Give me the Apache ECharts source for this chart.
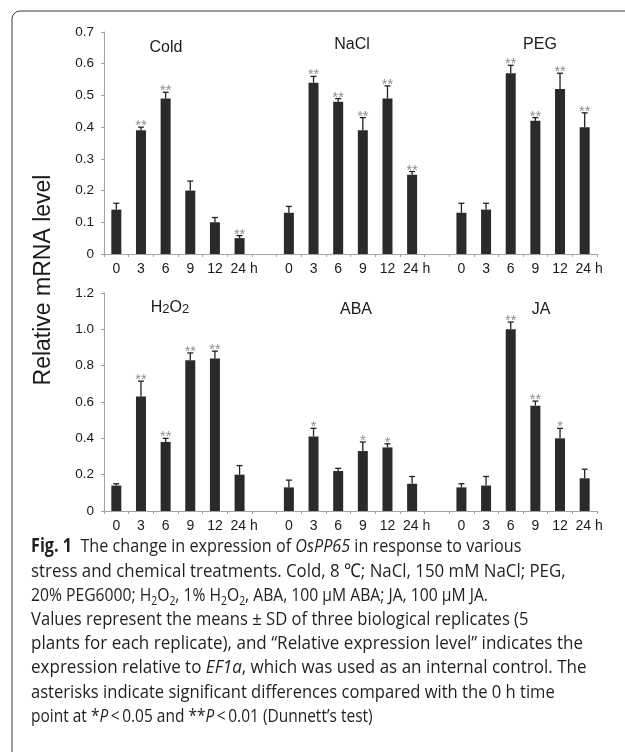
<!DOCTYPE html>
<html>
<head>
<meta charset="utf-8">
<script src="https://cdn.jsdelivr.net/npm/echarts@6/dist/echarts.min.js"></script>
<style>
html,body{margin:0;padding:0;background:#fff;}
#chart{width:625px;height:752px;}
</style>
</head>
<body>
<div id="chart"></div>
<script>
// ---------- data ----------
const times = ['0', '3', '6', '9', '12', '24'];
const topGroups = ['Cold', 'NaCl', 'PEG'];
const bottomGroups = ['H2O2', 'ABA', 'JA'];
const topYTicks = ['0', '0.1', '0.2', '0.3', '0.4', '0.5', '0.6', '0.7'];
const bottomYTicks = ['0', '0.2', '0.4', '0.6', '0.8', '1.0', '1.2'];

const coldMean = [0.14, 0.39, 0.49, 0.20, 0.10, 0.05];
const coldSD   = [0.02, 0.01, 0.02, 0.03, 0.015, 0.008];
const coldSig  = ['', '**', '**', '', '', '**'];

const naclMean = [0.13, 0.54, 0.48, 0.39, 0.49, 0.25];
const naclSD   = [0.02, 0.02, 0.01, 0.04, 0.04, 0.01];
const naclSig  = ['', '**', '**', '**', '**', '**'];

const pegMean = [0.13, 0.14, 0.57, 0.42, 0.52, 0.40];
const pegSD   = [0.03, 0.02, 0.025, 0.01, 0.05, 0.045];
const pegSig  = ['', '', '**', '**', '**', '**'];

const h2o2Mean = [0.14, 0.63, 0.38, 0.83, 0.84, 0.20];
const h2o2SD   = [0.01, 0.085, 0.02, 0.04, 0.04, 0.05];
const h2o2Sig  = ['', '**', '**', '**', '**', ''];

const abaMean = [0.13, 0.41, 0.22, 0.33, 0.35, 0.15];
const abaSD   = [0.04, 0.045, 0.015, 0.05, 0.02, 0.04];
const abaSig  = ['', '*', '', '*', '*', ''];

const jaMean = [0.13, 0.14, 1.00, 0.58, 0.40, 0.18];
const jaSD   = [0.02, 0.05, 0.04, 0.025, 0.055, 0.05];
const jaSig  = ['', '', '**', '**', '*', ''];

// ---------- build ----------
function buildPanel(groups, means, sds, sigs) {
  const cats = [], vals = [], errs = [], sigList = [];
  groups.forEach((g, gi) => {
    times.forEach((t, ti) => {
      const idx = cats.length;
      cats.push(g + '|' + t);
      vals.push(means[gi][ti]);
      errs.push([idx, means[gi][ti], sds[gi][ti]]);
      sigList.push(sigs[gi][ti]);
    });
    if (gi < groups.length - 1) { cats.push(g + '|gap'); vals.push(null); }
  });
  return { cats, vals, errs, sigList };
}
const topPanel = buildPanel(topGroups, [coldMean, naclMean, pegMean], [coldSD, naclSD, pegSD], [coldSig, naclSig, pegSig]);
const botPanel = buildPanel(bottomGroups, [h2o2Mean, abaMean, jaMean], [h2o2SD, abaSD, jaSD], [h2o2Sig, abaSig, jaSig]);

const FONT = '"Liberation Sans", Arial, sans-serif';
const CAP_FONT = '"Open Sans", "Noto Sans", sans-serif';
const AXIS_COLOR = '#a3a3a3';
const BAR_COLOR = '#2a2a2a';

function xAxisFor(panel, gridIndex) {
  return {
    type: 'category', gridIndex, data: panel.cats,
    axisLine: { lineStyle: { color: AXIS_COLOR, width: 1 } },
    axisTick: { show: true, length: 3, lineStyle: { color: AXIS_COLOR } },
    axisLabel: {
      interval: 0, margin: 8, color: '#1a1a1a', fontSize: 14, fontFamily: FONT,
      formatter: v => {
        const t = v.split('|')[1];
        if (t === 'gap') return '';
        if (t === '24') return '{p|24 h}';
        return t;
      },
      rich: { p: { fontSize: 14, fontFamily: FONT, color: '#1a1a1a', padding: [0, 0, 0, 9] } }
    }
  };
}
function yAxisFor(gridIndex, max, interval, ticks) {
  return {
    type: 'value', gridIndex, min: 0, max, interval,
    axisLine: { show: true, lineStyle: { color: AXIS_COLOR, width: 1 } },
    axisTick: { show: true, length: 3, lineStyle: { color: AXIS_COLOR } },
    splitLine: { show: false },
    axisLabel: {
      margin: 10, color: '#1a1a1a', fontSize: 13.5, fontFamily: FONT,
      formatter: (v) => ticks[Math.round(v / interval)]
    }
  };
}
function errSeries(panel, idx) {
  return {
    type: 'custom', xAxisIndex: idx, yAxisIndex: idx, data: panel.errs, z: 5,
    encode: { x: 0, y: 1 },
    renderItem: (params, api) => {
      const x = api.value(0), m = api.value(1), s = api.value(2);
      const p0 = api.coord([x, m]), p1 = api.coord([x, m + s]);
      const cap = 3;
      const children = [
        { type: 'line', shape: { x1: p0[0], y1: p0[1], x2: p1[0], y2: p1[1] }, style: { stroke: '#222', lineWidth: 1.3 } },
        { type: 'line', shape: { x1: p1[0] - cap, y1: p1[1], x2: p1[0] + cap, y2: p1[1] }, style: { stroke: '#222', lineWidth: 1.3 } }
      ];
      const sig = panel.sigList[params.dataIndex];
      if (sig) {
        children.push({ type: 'text', x: p1[0], y: p1[1] - 1,
          style: { text: sig, fill: '#8c8c8c', fontSize: 14.5, fontFamily: FONT, align: 'center', verticalAlign: 'middle' } });
      }
      return { type: 'group', children };
    }
  };
}

function titleText(text, cx, cy) {
  return { type: 'text', x: cx, y: cy, style: { text, fill: '#1a1a1a', fontSize: 16, fontFamily: FONT, align: 'center', verticalAlign: 'middle' } };
}

// ---------- caption ----------
const CAP_SIZE = 19;
const CAP_COLOR = '#231f20';
const capRich = {
  b: { fontSize: CAP_SIZE, fontFamily: CAP_FONT, fontWeight: 'bold', fill: CAP_COLOR },
  i: { fontSize: CAP_SIZE, fontFamily: CAP_FONT, fontStyle: 'italic', fill: CAP_COLOR },
  s: { fontSize: 12.5, fontFamily: CAP_FONT, fill: CAP_COLOR, verticalAlign: 'bottom', lineHeight: 12 },
  n: { fontSize: CAP_SIZE, fontFamily: CAP_FONT, fill: CAP_COLOR, lineHeight: 25 }
};
const captionLines = [
  '{b|Fig. 1}{n|  The change in expression of }{i|OsPP65}{n| in response to various}',
  '{n|stress and chemical treatments. Cold, 8 ℃; NaCl, 150 mM NaCl; PEG,}',
  '{n|20% PEG6000; H}{s|2}{n|O}{s|2}{n|, 1% H}{s|2}{n|O}{s|2}{n|, ABA, 100 μM ABA; JA, 100 μM JA.}',
  '{n|Values represent the means ± SD of three biological replicates (5}',
  '{n|plants for each replicate), and “Relative expression level” indicates the}',
  '{n|expression relative to }{i|EF1a}{n|, which was used as an internal control. The}',
  '{n|asterisks indicate significant differences compared with the 0 h time}',
  '{n|point at *}{i|P}{n|\u2009<\u20090.05 and **}{i|P}{n|\u2009<\u20090.01 (Dunnett’s test)}'
];
// approximate right edge of each caption line in the reference (layout only)
const captionRight = [511, 576, 465, 531, 600, 603, 556, 351];
const CAP_LEFT = 31;
const CAP_SCALE_X = 0.87;
const measureCtx = document.createElement('canvas').getContext('2d');
function naturalWidth(line) {
  let w = 0;
  const re = /\{(\w)\|([^}]*)\}/g;
  let mt;
  while ((mt = re.exec(line))) {
    const st = capRich[mt[1]];
    measureCtx.font = (st.fontStyle || 'normal') + ' ' + (st.fontWeight || 'normal') + ' ' + st.fontSize + 'px ' + st.fontFamily;
    w += measureCtx.measureText(mt[2]).width;
  }
  return w;
}
// blend a uniform horizontal scale with a per-line fit (geometric mean) so glyphs stay consistent
function lineScale(k) {
  const fit = (captionRight[k] - CAP_LEFT) / naturalWidth(captionLines[k]);
  return Math.sqrt(CAP_SCALE_X * fit);
}
const capY0 = 547, capDY = 24.2;
const captionGraphics = captionLines.map((t, k) => ({
  type: 'text', x: CAP_LEFT, y: capY0 + k * capDY, scaleX: lineScale(k),
  style: { text: t, rich: capRich, align: 'left', verticalAlign: 'middle', fontSize: CAP_SIZE, fontFamily: CAP_FONT, fill: CAP_COLOR }
}));

const chart = echarts.init(document.getElementById('chart'), null, { renderer: 'canvas' });
chart.setOption({
  animation: false,
  backgroundColor: '#fff',
  grid: [
    { left: 104, width: 493, top: 32, height: 222 },
    { left: 104, width: 493, top: 293, height: 218 }
  ],
  xAxis: [xAxisFor(topPanel, 0), xAxisFor(botPanel, 1)],
  yAxis: [yAxisFor(0, 0.7, 0.1, topYTicks), yAxisFor(1, 1.2, 0.2, bottomYTicks)],
  series: [
    { type: 'bar', xAxisIndex: 0, yAxisIndex: 0, data: topPanel.vals, barWidth: 10, itemStyle: { color: BAR_COLOR } },
    { type: 'bar', xAxisIndex: 1, yAxisIndex: 1, data: botPanel.vals, barWidth: 10, itemStyle: { color: BAR_COLOR } },
    errSeries(topPanel, 0),
    errSeries(botPanel, 1)
  ],
  graphic: [
    { type: 'rect', shape: { x: 12, y: 11, width: 800, height: 900, r: 8 }, style: { fill: 'none', stroke: '#3a3a3a', lineWidth: 1 } },
    { type: 'text', x: 44, y: 280, rotation: Math.PI / 2,
      style: { text: 'Relative mRNA level', fill: '#1a1a1a', fontSize: 23, fontFamily: FONT, align: 'center', verticalAlign: 'middle' } },
    titleText(topGroups[0], 166, 48),
    titleText(topGroups[1], 352, 45),
    titleText(topGroups[2], 540, 45),
    { type: 'text', x: 170, y: 308,
      style: { text: '{n|H}{s|2}{n|O}{s|2}', align: 'center', verticalAlign: 'middle', fontSize: 16, fontFamily: FONT, fill: '#1a1a1a',
        rich: { n: { fontSize: 16, fontFamily: FONT, fill: '#1a1a1a', verticalAlign: 'bottom' }, s: { fontSize: 13, fontFamily: FONT, fill: '#1a1a1a', verticalAlign: 'bottom' } } } },
    titleText(bottomGroups[1], 356, 310),
    titleText(bottomGroups[2], 541, 310)
  ].concat(captionGraphics)
});
</script>
</body>
</html>
